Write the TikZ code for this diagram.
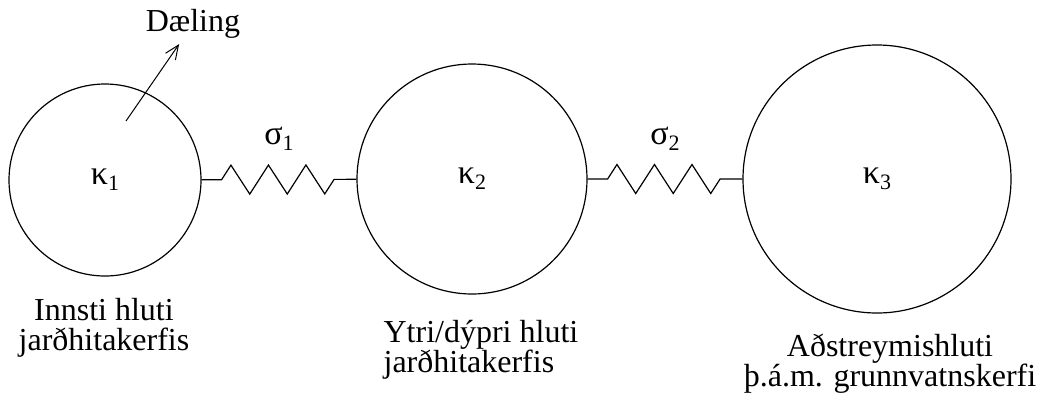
\documentclass[tikz,border=0pt]{standalone}
\usepackage{fontspec}
\setmainfont{Liberation Serif}
\usetikzlibrary{arrows.meta,decorations.pathmorphing}

\newcommand{\greek}[2]{{\fontsize{34}{34}\selectfont #1}\raisebox{-6pt}{\fontsize{22}{22}\selectfont #2}}

\begin{document}
\begin{tikzpicture}[
    x=1pt, y=-1pt,
    line width=1.2pt,
    every node/.style={font=\fontsize{32}{30}\selectfont, inner sep=0pt},
    reservoir/.style={circle, draw, minimum size=#1},
    spring/.style={decorate, decoration={zigzag, segment length=37.5pt, amplitude=14.5pt, pre length=20pt, post length=19pt}},
    pump/.style={-{Straight Barb[length=14pt, width=12pt]}, line width=1pt},
    caption/.style={align=#1},
]
\useasboundingbox (0,0) rectangle (1041,400);

% Reservoir parts
\node[reservoir=192pt] (k1) at (105,180) {\greek{κ}{1}};
\node[reservoir=230pt] (k2) at (472,179) {\greek{κ}{2}};
\node[reservoir=268pt] (k3) at (877,179) {\greek{κ}{3}};

% Connections
\draw[spring] (k1) -- node[above=28pt] (s1) {\greek{σ}{1}} (k2);
\draw[spring] (k2) -- node[above=28pt] (s2) {\greek{σ}{2}} (k3);

% Production
\node (pump) at (193,24) {Dæling};
\coordinate (welltop) at (126,121);
\draw[pump, shorten >=6pt] (welltop) -- (pump);

% Captions
\node[caption=center] (c1) at (104,328) {Innsti hluti\\jarðhitakerfis};
\node[caption=left, anchor=west] (c2) at (383,350) {Ytri/dýpri hluti\\jarðhitakerfis};
\node[caption=center] (c3) at (890,364) {Aðstreymishluti\\þ.á.m. grunnvatnskerfi};

\end{tikzpicture}
\end{document}
